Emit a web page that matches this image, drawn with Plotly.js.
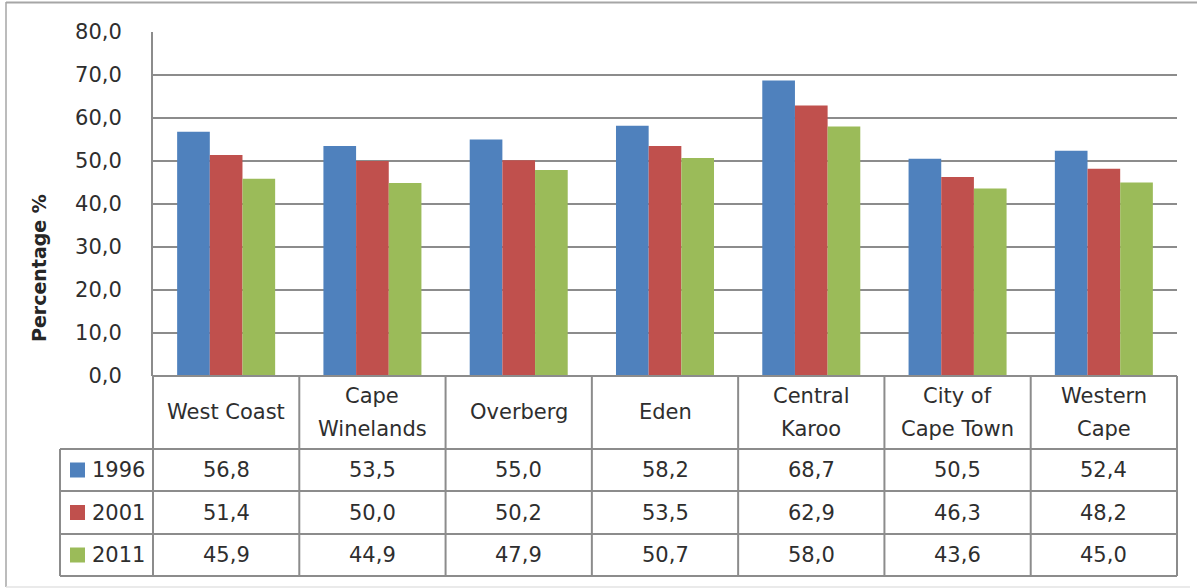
<!DOCTYPE html>
<html>
<head>
<meta charset="utf-8">
<script src="https://cdn.plot.ly/plotly-3.0.1.min.js"></script>
<style>
  html, body { margin: 0; padding: 0; background: #ffffff; }
  #chart { width: 1197px; height: 588px; }
</style>
</head>
<body>
<div id="chart"></div>
<script>
// ---- data ----
var categories = ['West Coast', 'Cape\nWinelands', 'Overberg', 'Eden', 'Central\nKaroo', 'City of\nCape Town', 'Western\nCape'];
var seriesNames = ['1996', '2001', '2011'];
var values1996 = [56.8, 53.5, 55.0, 58.2, 68.7, 50.5, 52.4];
var values2001 = [51.4, 50.0, 50.2, 53.5, 62.9, 46.3, 48.2];
var values2011 = [45.9, 44.9, 47.9, 50.7, 58.0, 43.6, 45.0];
var seriesValues = [values1996, values2001, values2011];
var seriesColors = ['#4F81BD', '#C0504D', '#9BBB59'];
var yTitle = 'Percentage %';

// ---- geometry (pixels) ----
var W = 1197, H = 588;
var L = 153, R = 1177, T = 32, B = 376;
function xp(px) { return (px - L) / (R - L); }
function yp(py) { return (B - py) / (B - T); }

var lineColor = '#8C8C8C';
var textColor = '#2e2e2e';
var fontFam = 'DejaVu Sans, sans-serif';
var fs = 21;

var traces = seriesNames.map(function (name, i) {
  return {
    type: 'bar',
    name: name,
    x: categories,
    y: seriesValues[i],
    marker: { color: seriesColors[i], line: { width: 0 } },
    hoverinfo: 'x+y+name'
  };
});

var shapes = [];
var annotations = [];

// outer chart border (top, left dark; bottom faint; right is off-picture)
shapes.push({ type: 'line', xref: 'paper', yref: 'paper',
  x0: xp(6), x1: xp(1200), y0: yp(2.5), y1: yp(2.5),
  line: { color: '#A6A6A6', width: 2 } });
shapes.push({ type: 'line', xref: 'paper', yref: 'paper',
  x0: xp(6), x1: xp(6), y0: yp(2), y1: yp(587),
  line: { color: '#A6A6A6', width: 1.5 } });
shapes.push({ type: 'line', xref: 'paper', yref: 'paper',
  x0: xp(6), x1: xp(1190), y0: yp(587), y1: yp(587),
  line: { color: '#E3E3E3', width: 1.5 } });

// table rows
var rowTops = [376, 449, 491, 534, 576];
var legendLeft = 60;
var colW = (R - L) / categories.length;
rowTops.forEach(function (y, i) {
  shapes.push({ type: 'line', xref: 'paper', yref: 'paper',
    x0: xp(i === 0 ? L : legendLeft), x1: xp(R), y0: yp(y), y1: yp(y),
    line: { color: lineColor, width: 2 } });
});
for (var c = 0; c <= categories.length; c++) {
  var x = L + c * colW;
  shapes.push({ type: 'line', xref: 'paper', yref: 'paper',
    x0: xp(x), x1: xp(x), y0: yp(376), y1: yp(576),
    line: { color: lineColor, width: 2 } });
}
shapes.push({ type: 'line', xref: 'paper', yref: 'paper',
  x0: xp(legendLeft), x1: xp(legendLeft), y0: yp(449), y1: yp(576),
  line: { color: lineColor, width: 2 } });

// category header labels
var headerCenter = 412, lineGap = 33;
categories.forEach(function (cat) {
  var lines = cat.split('\n');
  lines.forEach(function (ln, k) {
    var yc = headerCenter + (k - (lines.length - 1) / 2) * lineGap;
    annotations.push({ xref: 'x', yref: 'paper', x: cat, y: yp(yc),
      text: ln, showarrow: false, xanchor: 'center', yanchor: 'middle',
      font: { family: fontFam, size: fs, color: textColor } });
  });
});

// data rows
function fmt(v) { return v.toFixed(1).replace('.', ','); }
seriesNames.forEach(function (name, s) {
  var yc = (rowTops[s + 1] + rowTops[s + 2]) / 2;
  // legend key
  shapes.push({ type: 'rect', xref: 'paper', yref: 'paper',
    x0: xp(70), x1: xp(85), y0: yp(yc - 7.5), y1: yp(yc + 7.5),
    line: { width: 0 }, fillcolor: seriesColors[s] });
  annotations.push({ xref: 'paper', yref: 'paper', x: xp(90), y: yp(yc),
    text: name, showarrow: false, xanchor: 'left', yanchor: 'middle',
    font: { family: fontFam, size: fs, color: textColor } });
  categories.forEach(function (cat, ci) {
    annotations.push({ xref: 'x', yref: 'paper', x: cat, y: yp(yc),
      text: fmt(seriesValues[s][ci]), showarrow: false, xanchor: 'center', yanchor: 'middle',
      font: { family: fontFam, size: fs, color: textColor } });
  });
});

// y axis title (placed like the original, off the plot-area centre)
annotations.push({ xref: 'paper', yref: 'paper', x: xp(39), y: yp(268),
  text: '<b>' + yTitle + '</b>', textangle: -90, showarrow: false,
  xanchor: 'center', yanchor: 'middle',
  font: { family: fontFam, size: 19, color: '#262626' } });

var layout = {
  width: W, height: H,
  margin: { l: L, r: W - R, t: T, b: H - B, pad: 0 },
  paper_bgcolor: '#ffffff',
  plot_bgcolor: '#ffffff',
  separators: ',.',
  showlegend: false,
  barmode: 'group',
  bargap: 0.33,
  bargroupgap: 0,
  font: { family: fontFam, color: textColor },
  xaxis: {
    type: 'category',
    showticklabels: false,
    showgrid: false,
    zeroline: false,
    showline: false,
    ticks: '',
    fixedrange: true
  },
  yaxis: {
    range: [0, 80],
    dtick: 10,
    tick0: 0,
    tickformat: '.1f',
    showgrid: true,
    gridcolor: lineColor,
    gridwidth: 2,
    zeroline: false,
    showline: true,
    linecolor: lineColor,
    linewidth: 2,
    ticks: '',
    ticklabelstandoff: 25,
    tickfont: { family: fontFam, size: fs, color: textColor },
    title: { text: '' },
    automargin: false,
    fixedrange: true
  },
  shapes: shapes,
  annotations: annotations
};

Plotly.newPlot('chart', traces, layout, { displayModeBar: false, staticPlot: true });
</script>
</body>
</html>
